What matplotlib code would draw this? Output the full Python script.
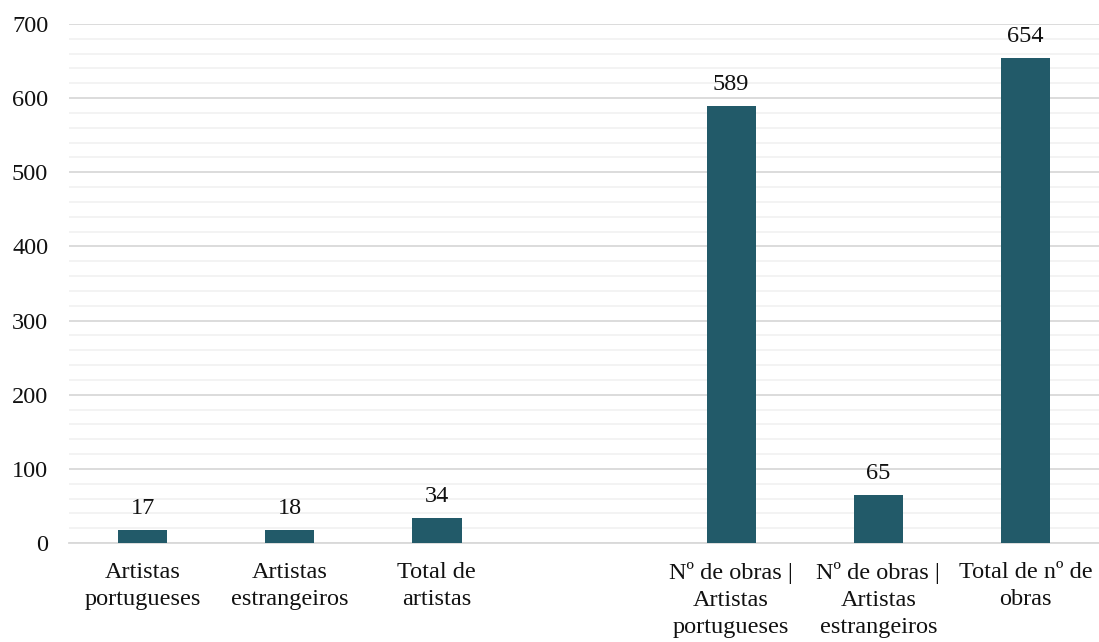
import matplotlib
matplotlib.use("Agg")
import matplotlib.pyplot as plt
from matplotlib.ticker import MultipleLocator

categories = [
    "Artistas\nportugueses",
    "Artistas\nestrangeiros",
    "Total de\nartistas",
    "",
    "Nº de obras |\nArtistas\nportugueses",
    "Nº de obras |\nArtistas\nestrangeiros",
    "Total de nº de\nobras",
]
values = [17, 18, 34, None, 589, 65, 654]

plt.rcParams["font.family"] = ["Liberation Serif", "DejaVu Serif"]

fig = plt.figure(figsize=(10.99, 6.42), dpi=100)
ax = fig.add_axes([0.0628, 0.1542, 0.9372, 0.8084])

bar_color = "#225A69"
xs = [i for i, v in enumerate(values) if v is not None]
ys = [v for v in values if v is not None]
ax.bar(xs, ys, width=0.335, color=bar_color, zorder=3)
for x, y in zip(xs, ys):
    ax.annotate(f"{y}", (x, y), xytext=(0, 8), textcoords="offset points",
                ha="center", va="bottom", fontsize=17.5, color="#111111")

ax.set_xlim(-0.5, len(categories) - 0.5)
ax.set_ylim(0, 700)
ax.yaxis.set_major_locator(MultipleLocator(100))
ax.yaxis.set_minor_locator(MultipleLocator(20))
ax.grid(axis="y", which="major", color="#D9D9D9", linewidth=1.3, zorder=0)
ax.grid(axis="y", which="minor", color="#F2F2F2", linewidth=1.3, zorder=0)

ax.set_xticks(range(len(categories)))
ax.set_xticklabels(categories, fontsize=17.5, color="#111111", linespacing=1.37)
ax.tick_params(axis="both", which="both", length=0)
ax.tick_params(axis="y", labelsize=17.5, labelcolor="#111111", pad=15)
ax.tick_params(axis="x", pad=14)

for side in ["top", "right", "left"]:
    ax.spines[side].set_visible(False)
ax.spines["bottom"].set_color("#D9D9D9")
ax.spines["bottom"].set_linewidth(1.3)

fig.savefig("out.png", dpi=100)
